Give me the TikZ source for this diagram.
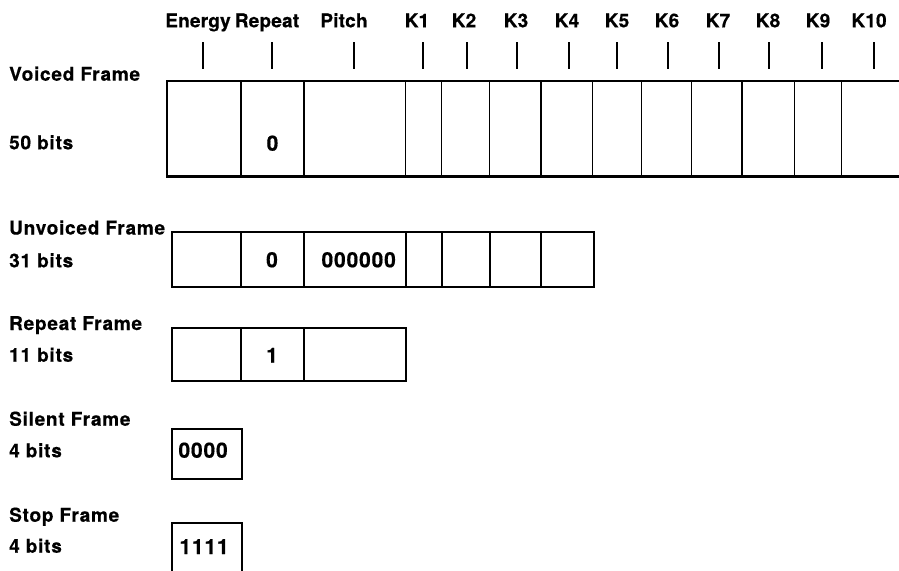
\documentclass[tikz,border=0pt]{standalone}
\usepackage{fontspec}
\setmainfont{TeX Gyre Heros}[LetterSpace=4, BoldFeatures={FakeBold=0.5}]
\newfontfamily\hdrfont{TeX Gyre Heros}[LetterSpace=1, BoldFeatures={FakeBold=0.5}]
\begin{document}
\begin{tikzpicture}[x=1pt,y=-1pt,
  hdr/.style={font=\hdrfont\fontsize{19}{19}\selectfont\bfseries, anchor=base, inner sep=0pt},
  lbl/.style={font=\fontsize{19}{19}\selectfont\bfseries, anchor=base west, inner sep=0pt},
  dig/.style={font=\fontsize{21}{21}\selectfont\bfseries, anchor=base, inner sep=0pt},
  digl/.style={dig, anchor=base west},
  framebox/.style={line width=2.2pt, line join=miter},
  divider/.style={line width=1.9pt},
  tickline/.style={line width=1.6pt}]
\useasboundingbox (0,0) rectangle (899,570);

% header labels and ticks
\foreach \t/\lx/\tx [count=\i] in {Energy/198/203, Repeat/267/272, Pitch/344/354,
    K1/417/423, K2/464/467, K3/516/517, K4/567/569, K5/617/617, K6/667/668,
    K7/718/719, K8/768/769, K9/818/822, K10/869/874} {
  \node[hdr] (h\i) at (\lx,27.3) {\t};
  \coordinate (ta\i) at (\tx,42);
  \coordinate (tb\i) at (\tx,69);
  \draw[tickline] (ta\i) -- (tb\i);
}

% Voiced frame
\node[lbl] (vname) at (9,80.7) {Voiced Frame};
\node[lbl] (vbits) at (9,149.3) {50 bits};
\draw[framebox] (899,81) -- (167,81) -- (167,176.5) -- (899,176.5);
\foreach \x in {241,304,405.5,441.5,489.5,541,592.5,641.5,691.5,742,794.5,841.5}
  \draw[divider] (\x,81) -- (\x,176.5);
\node[dig] (v0) at (272.5,150.7) {0};

% Unvoiced frame
\node[lbl] (uname) at (9,234.5) {Unvoiced Frame};
\node[lbl] (ubits) at (9,267.3) {31 bits};
\draw[framebox] (172,232.3) rectangle (594.3,286.7);
\foreach \x in {241.3,304.3,405.7,442.3,490,541.3}
  \draw[divider] (\x,232.3) -- (\x,286.7);
\node[dig] (u0) at (272,267.3) {0};
\node[dig] (up) at (358.7,267.3) {000000};

% Repeat frame
\node[lbl] (rname) at (9,330) {Repeat Frame};
\node[lbl] (rbits) at (9,361.7) {11 bits};
\draw[framebox] (172,328.3) rectangle (406,380.7);
\foreach \x in {241.3,304.3}
  \draw[divider] (\x,328.3) -- (\x,380.7);
\node[dig] (r1) at (272,362.7) {1};

% Silent frame
\node[lbl] (sname) at (9,425.7) {Silent Frame};
\node[lbl] (sbits) at (9,457.3) {4 bits};
\draw[framebox] (172.3,429) rectangle (241.7,479);
\node[digl] (s0) at (178.3,457.7) {0000};

% Stop frame
\node[lbl] (tname) at (9,521.7) {Stop Frame};
\node[lbl] (tbits) at (9,552.7) {4 bits};
\draw[framebox] (172.3,572) -- (172.3,522.7) -- (241.7,522.7) -- (241.7,572);
\node[digl] (t1) at (179.3,554) {1111};
\end{tikzpicture}
\end{document}
